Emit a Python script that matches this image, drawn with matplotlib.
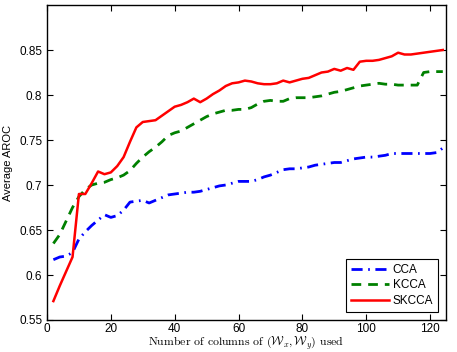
import matplotlib
matplotlib.use("Agg")
import matplotlib.pyplot as plt

plt.rcParams['font.family'] = ['Liberation Sans', 'DejaVu Sans']
plt.rcParams['mathtext.fontset'] = 'cm'

x = [2, 4, 6, 8, 10, 12, 14, 16, 18, 20, 22, 24, 26, 28, 30, 32, 34, 36, 38, 40,
     42, 44, 46, 48, 50, 52, 54, 56, 58, 60, 62, 64, 66, 68, 70, 72, 74, 76, 78, 80,
     82, 84, 86, 88, 90, 92, 94, 96, 98, 100, 102, 104, 106, 108, 110, 112, 114, 116,
     118, 120, 122, 124]

cca = [0.617, 0.620, 0.621, 0.625, 0.640, 0.648, 0.655, 0.661, 0.667, 0.664,
       0.666, 0.672, 0.681, 0.682, 0.683, 0.680, 0.683, 0.686, 0.689, 0.690,
       0.691, 0.692, 0.692, 0.693, 0.695, 0.697, 0.699, 0.700, 0.702, 0.704,
       0.704, 0.704, 0.706, 0.709, 0.711, 0.714, 0.717, 0.718, 0.718, 0.719,
       0.720, 0.722, 0.723, 0.724, 0.725, 0.725, 0.727, 0.729, 0.730, 0.731,
       0.731, 0.732, 0.733, 0.735, 0.735, 0.735, 0.735, 0.735, 0.735, 0.735,
       0.736, 0.741]

kcca = [0.635, 0.645, 0.660, 0.675, 0.687, 0.695, 0.700, 0.702, 0.703, 0.706,
        0.708, 0.711, 0.716, 0.724, 0.731, 0.737, 0.742, 0.748, 0.755, 0.758,
        0.760, 0.764, 0.768, 0.772, 0.776, 0.779, 0.781, 0.783, 0.783, 0.784,
        0.784, 0.786, 0.790, 0.793, 0.794, 0.793, 0.793, 0.796, 0.797, 0.797,
        0.797, 0.798, 0.799, 0.801, 0.803, 0.804, 0.806, 0.808, 0.810, 0.811,
        0.812, 0.813, 0.812, 0.812, 0.811, 0.811, 0.811, 0.811, 0.825, 0.826,
        0.826, 0.826]

skcca = [0.571, 0.588, 0.604, 0.620, 0.690, 0.690, 0.702, 0.715, 0.712, 0.714,
         0.721, 0.731, 0.748, 0.764, 0.770, 0.771, 0.772, 0.777, 0.782, 0.787,
         0.789, 0.792, 0.796, 0.792, 0.796, 0.801, 0.805, 0.810, 0.813, 0.814,
         0.816, 0.815, 0.813, 0.812, 0.812, 0.813, 0.816, 0.814, 0.816, 0.818,
         0.819, 0.822, 0.825, 0.826, 0.829, 0.827, 0.830, 0.828, 0.837, 0.838,
         0.838, 0.839, 0.841, 0.843, 0.847, 0.845, 0.845, 0.846, 0.847, 0.848,
         0.849, 0.850]

labels = ['CCA', 'KCCA', 'SKCCA']
xticks = [0, 20, 40, 60, 80, 100, 120]
yticks = [0.55, 0.6, 0.65, 0.7, 0.75, 0.8, 0.85]
ytick_labels = ['0.55', '0.6', '0.65', '0.7', '0.75', '0.8', '0.85']

fig = plt.figure(figsize=(4.57, 3.52), dpi=100)
ax = fig.add_axes([47/457, 32/352, 399/457, 315/352])

ax.plot(x, cca, color=(0, 0, 1), lw=2.0, linestyle=(0, (4, 2, 0.6, 2)), label=labels[0])
ax.plot(x, kcca, color=(0, 0.5, 0), lw=2.0, linestyle=(0, (3.5, 2.5)), label=labels[1])
ax.plot(x, skcca, color=(1, 0, 0), lw=1.8, linestyle='-', label=labels[2])

ax.set_xlim(0, 125)
ax.set_ylim(0.55, 0.9)
ax.set_xticks(xticks)
ax.set_yticks(yticks)
ax.set_yticklabels(ytick_labels)
ax.tick_params(direction='in', top=True, right=True, labelsize=8.5, length=4, width=0.8)
ax.tick_params(axis='x', pad=2)
for s in ax.spines.values():
    s.set_linewidth(1.0)

ax.set_ylabel('Average AROC', fontsize=8, labelpad=4)
ax.set_xlabel(r'Number of columns of $(\mathcal{W}_x,\mathcal{W}_y)$ used',
              fontsize=8.5, family='cmr10', labelpad=0)

leg = ax.legend(loc='lower right', fontsize=8.5, handlelength=3.2, fancybox=False,
                framealpha=1, edgecolor='black', borderpad=0.4, labelspacing=0.3,
                handletextpad=0.3, borderaxespad=0.7)
leg.get_frame().set_linewidth(0.8)

fig.savefig('out.png', dpi=100)
